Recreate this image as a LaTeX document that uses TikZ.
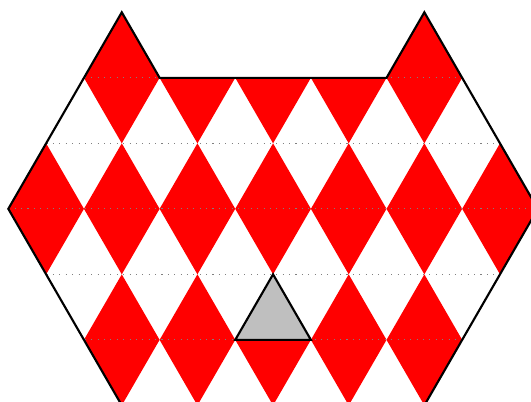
\documentclass[tikz,border=0pt]{standalone}
\usepackage{xcolor}
\usetikzlibrary{calc}

\tikzset{
  rhomb/.style={fill=red},
  gridline/.style={gray, dotted},
  rim/.style={draw=black, thick},
  hole/.style={fill=gray!50, draw=black, thick},
}

\begin{document}
\begin{tikzpicture}[x=1cm, y=0.866cm]
\useasboundingbox (-0.11cm,-2.547cm) rectangle (6.91cm,2.761cm);
\clip (-0.11cm,-2.547cm) rectangle (6.91cm,2.761cm);

% corners of the board
\coordinate (earL) at (1.5,3);
\coordinate (notchL) at (2,2);
\coordinate (notchR) at (5,2);
\coordinate (earR) at (5.5,3);
\coordinate (east) at (7,0);
\coordinate (southE) at (5.5,-3);
\coordinate (southW) at (1.5,-3);
\coordinate (west) at (0,0);

\begin{scope}
\clip (earL) -- (notchL) -- (notchR) -- (earR) -- (east) -- (southE) -- (southW) -- (west) -- cycle;
% red diamonds
\foreach \r in {3,1,-1}
  \foreach \a in {0.5,1.5,...,6.5}
    \fill[rhomb] (\a,\r) -- ++(0.5,-1) -- ++(-0.5,-1) -- ++(-0.5,1) -- cycle;
% rows of the grid
\foreach \r in {2,1,0,-1,-2}
  \draw[gridline] (0,\r) -- (7,\r);
\end{scope}

% the grey piece
\coordinate (top) at (3.5,-1);
\coordinate (left) at (3,-2);
\coordinate (right) at (4,-2);
\draw[hole] (top) -- (left) -- (right) -- cycle;

\draw[rim] (earL) -- (notchL) -- (notchR) -- (earR) -- (east) -- (southE) -- (southW) -- (west) -- cycle;
\end{tikzpicture}
\end{document}
